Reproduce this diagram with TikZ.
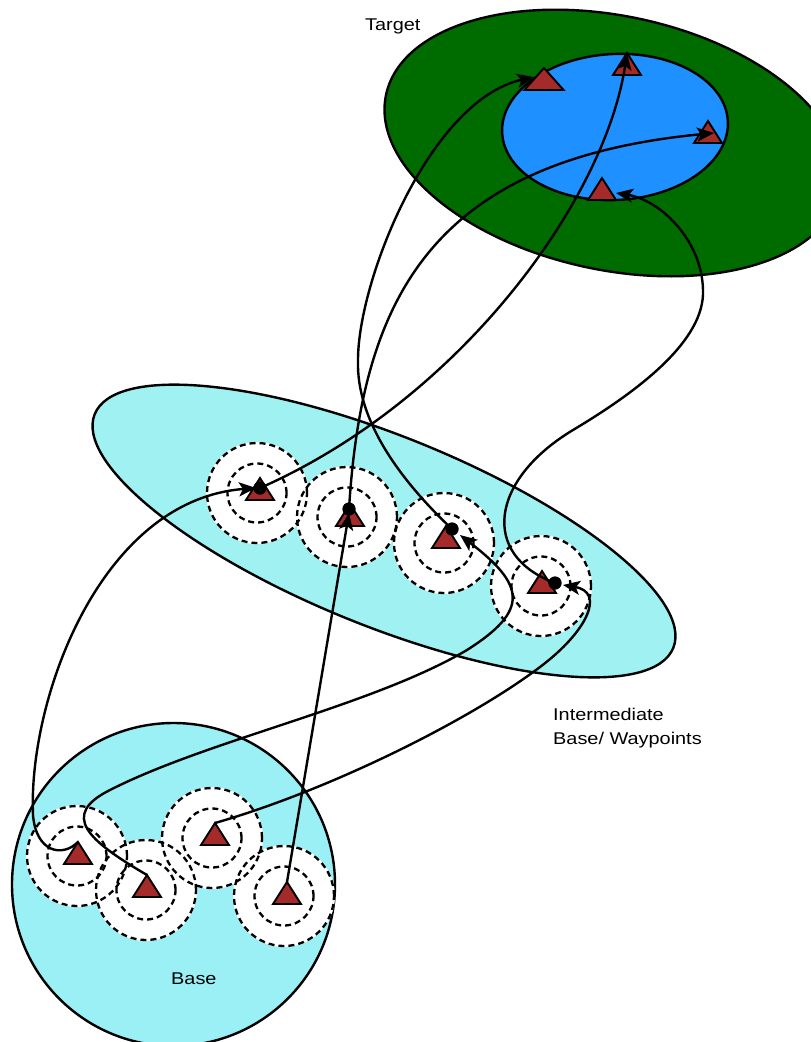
\documentclass[tikz,border=0pt]{standalone}
\usepackage{fontspec}
\newfontfamily\lblfont{Liberation Sans}[FakeStretch=1.17]
\usetikzlibrary{arrows.meta}
\definecolor{targetgreen}{RGB}{0,108,0}
\definecolor{innerblue}{RGB}{30,144,255}
\definecolor{zonecyan}{RGB}{160,242,242}
\definecolor{basecyan}{RGB}{155,240,245}
\definecolor{siteRed}{RGB}{165,42,42}
\begin{document}
\begin{tikzpicture}[x=1pt,y=-1pt,
  zone/.style={draw=black,line width=2.4pt},
  ring/.style={draw=black,line width=2.3pt,dash pattern=on 6pt off 4pt},
  link/.style={draw=black,line width=2.4pt},
  arrowlink/.style={link,-{Stealth[length=17pt,width=14pt,inset=4pt]}},
  wdot/.style={circle,fill=black,inner sep=0pt,minimum size=13pt},
  lbl/.style={font=\lblfont\fontsize{17}{24}\selectfont,inner sep=0pt},
  tri/.pic={\draw[fill=siteRed,line width=1.9pt,line join=miter]
      (-14,11) -- (14,11) -- (0,-11) -- cycle;
    \coordinate (-apex) at (0,-11);}
]
\useasboundingbox (0,0) rectangle (811,1042);
\clip (0,0) rectangle (811,1042);

% zones
\path[zone,fill=zonecyan,rotate around={-22:(384,531)}]
  (384,531) ellipse [x radius=312pt, y radius=95pt];
\path[zone,fill=basecyan] (173.5,884.5) circle [radius=161.5pt];
\path[zone,fill=targetgreen,rotate around={-12:(613,143)}]
  (613,143) ellipse [x radius=232pt, y radius=127pt];
\path[zone,fill=innerblue,rotate around={3:(615,127)}]
  (615,127) ellipse [x radius=113pt, y radius=73pt];

% coverage rings around base sites and waypoints
\foreach \c in {(77,856),(146,890),(212,838),(284,896),
                (257,493),(347,517),(444,543),(541,586)}
  \fill[white] \c circle [radius=51pt];
\foreach \c in {(77,856),(146,890),(212,838),(284,896),
                (257,493),(347,517),(444,543),(541,586)}{
  \draw[ring] \c circle [radius=50pt];
  \draw[ring] \c circle [radius=29.5pt];
}

% sites
\pic (b1) at (78,853) {tri};
\pic (b2) at (147,886) {tri};
\pic (b3) at (215,834) {tri};
\pic (b4) at (287,893) {tri};
\pic (w1) at (260,489) {tri};
\pic (w2) at (350,515) {tri};
\pic (w3) at (446,537) {tri};
\pic (w4) at (542,582) {tri};
\pic[xscale=1.4] (t1) at (544,79) {tri};
\pic (t2) at (627,64) {tri};
\pic (t3) at (708,132) {tri};
\pic (t4) at (602,189) {tri};

% arrival points of the connectors
\coordinate (w1in) at (256,488);
\coordinate (w2in) at (349,513);
\coordinate (w3in) at (460,535);
\coordinate (w4in) at (563,585);
\coordinate (t1in) at (534,77);
\coordinate (t3in) at (714,133);
\coordinate (t4in) at (616,193);

% departure dots at the waypoints
\node[wdot] (w1d) at (260,488) {};
\node[wdot] (w2d) at (349,509) {};
\node[wdot] (w3d) at (452,529) {};
\node[wdot] (w4d) at (555,583) {};

% base -> waypoint
\draw[arrowlink] (b1-apex) .. controls (62,858) and (36,852) .. (33,815)
  .. controls (28,700) and (100,500) .. (w1in);
\draw[arrowlink] (b4-apex) -- (w2in);
\draw[arrowlink] (b2-apex) .. controls (87,840) and (60,815) .. (110,790)
  .. controls (208,740) and (372,706) .. (467,650)
  .. controls (530,610) and (525,585) .. (w3in);
\draw[arrowlink] (b3-apex) .. controls (330,790) and (470,720) .. (540,667)
  .. controls (588,631) and (605,592) .. (w4in);

% waypoint -> target
\draw[arrowlink] (w1d.center) .. controls (460,400) and (605,200) .. (t2-apex);
\draw[arrowlink] (w2d.center) .. controls (362,300) and (430,160) .. (t3in);
\draw[arrowlink] (w3d.center) .. controls (400,480) and (356,420) .. (358,360)
  .. controls (358,280) and (430,100) .. (t1in);
\draw[arrowlink] (w4d.center) .. controls (480,555) and (490,480) .. (573,430)
  .. controls (640,390) and (705,340) .. (703,290)
  .. controls (702,240) and (660,200) .. (t4in);

% redraw the dots on top of the connectors
\foreach \d in {w1d,w2d,w3d,w4d}
  \fill (\d) circle [radius=6.5pt];

% labels
\node[lbl,anchor=base west] (targetlbl) at (365,30) {Target};
\node[lbl,anchor=north west,align=left] (midlbl) at (553,707.5)
  {Intermediate\\Base/ Waypoints};
\node[lbl,anchor=base west] (baselbl) at (171,984) {Base};
\end{tikzpicture}
\end{document}
